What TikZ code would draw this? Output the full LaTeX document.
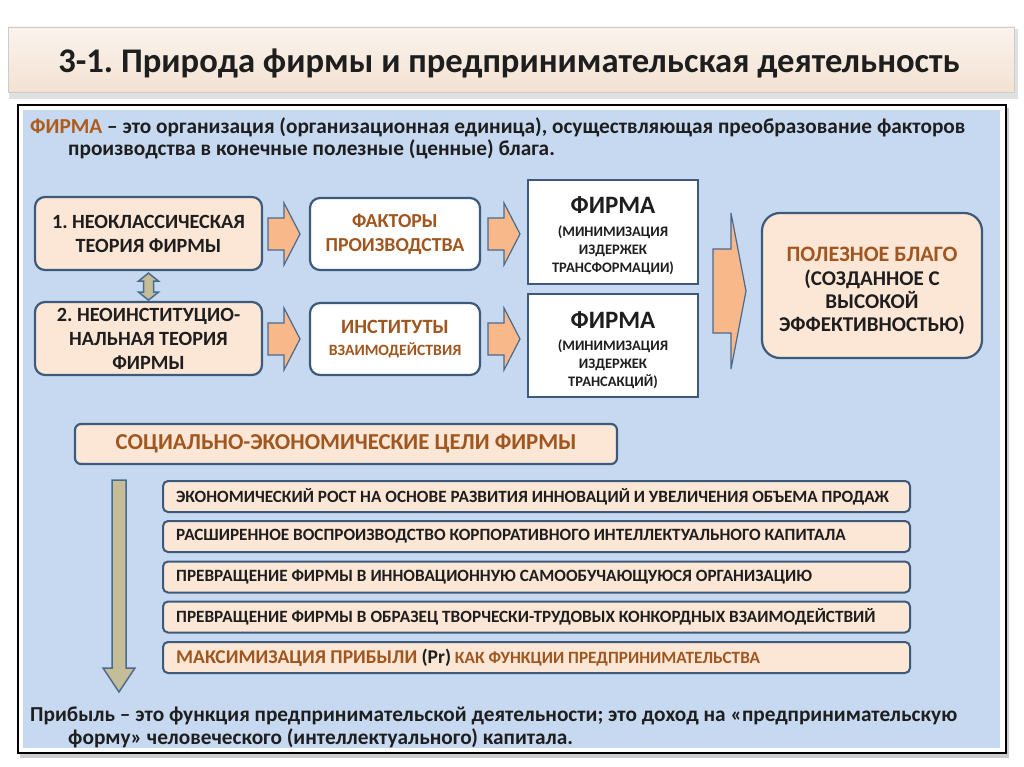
\documentclass[tikz,border=0pt]{standalone}
\usepackage{fontspec}
\setmainfont{Carlito}
\frenchspacing
\usetikzlibrary{calc}
\definecolor{panel}{HTML}{C6D9F1}
\definecolor{beige}{HTML}{FCE6D6}
\definecolor{titlebg}{HTML}{F3E2D2}
\definecolor{bord}{HTML}{3E5A7A}
\definecolor{brn}{HTML}{A0561F}
\definecolor{org}{HTML}{F8B88A}
\definecolor{dbl}{HTML}{C4BD97}
\definecolor{txt}{HTML}{1E1E1E}
\definecolor{arrbord}{HTML}{4A6A8E}
\tikzset{
  boxb/.style={draw=bord, line width=2.2pt, fill=beige, rounded corners=10pt, align=center, text=txt, inner sep=0pt},
  boxw/.style={draw=bord, line width=2.2pt, fill=white, rounded corners=10pt, align=center, text=txt, inner sep=0pt},
  boxf/.style={draw=bord, line width=2.2pt, fill=white, align=center, text=txt, inner sep=0pt},
  goal/.style={draw=bord, line width=2pt, fill=beige, rounded corners=5pt, minimum width=747pt, minimum height=31pt, inner sep=0pt},
  goaltxt/.style={anchor=west, text=txt, inner sep=0pt, font=\bfseries\fontsize{17.2}{18}\selectfont},
  barr/.style={draw=arrbord, line width=1.2pt, fill=org, line join=miter},
  garr/.style={draw=arrbord, line width=1.5pt, fill=dbl, line join=miter},
}
\newcommand{\rarrow}[6]{% x0, xhead, xtip, ymid, head half, shaft half
  \path[barr] (#1,#4-#6) -- (#2,#4-#6) -- (#2,#4-#5) -- (#3,#4) -- (#2,#4+#5) -- (#2,#4+#6) -- (#1,#4+#6) -- cycle;}
\begin{document}
\begin{tikzpicture}[x=1pt,y=-1pt]
\useasboundingbox (0,0) rectangle (1024,767);
\fill[white] (0,0) rectangle (1024,767);
% title
\fill[black!25] (10,31) rectangle (1016,97);
\fill[black!12] (9,29) rectangle (1018,99);
\shade[top color=titlebg!40, bottom color=titlebg, draw=black!20] (8,27) rectangle (1014,92);
\node[anchor=base, inner sep=0pt, text=txt, font=\bfseries\fontsize{34.6}{34}\selectfont] (title) at (509,73) {3-1. Природа фирмы и предпринимательская деятельность};
% panel
\fill[black!20] (20,108) rectangle (1009,758);
\draw[black, line width=2.5pt, fill=white] (18,105) rectangle (1006,753);
\fill[panel] (23,110) rectangle (1000,748);
% definition
\node[anchor=base west, inner sep=0pt, text=txt, font=\bfseries\fontsize{21.3}{21}\selectfont] (def1) at (30,134) {\textcolor{brn!85!orange}{ФИРМА} – это организация (организационная единица), осуществляющая преобразование факторов};
\node[anchor=base west, inner sep=0pt, text=txt, font=\bfseries\fontsize{21.3}{21}\selectfont] (def2) at (68,156) {производства в конечные полезные (ценные) блага.};
% row boxes
\node[boxb, minimum width=227pt, minimum height=73pt, font=\bfseries\fontsize{20.2}{24}\selectfont] (t1) at (148.5,233.5) {1. НЕОКЛАССИЧЕСКАЯ\\ТЕОРИЯ ФИРМЫ};
\node[boxb, minimum width=227pt, minimum height=73pt, font=\bfseries\fontsize{20.2}{24}\selectfont] (t2) at (148.5,338.5) {2. НЕОИНСТИТУЦИО-\\НАЛЬНАЯ ТЕОРИЯ\\ФИРМЫ};
\node[boxw, minimum width=170pt, minimum height=72pt, text=brn, font=\bfseries\fontsize{19.8}{24}\selectfont] (f1) at (395,234) {ФАКТОРЫ\\ПРОИЗВОДСТВА};
\node[boxw, minimum width=170pt, minimum height=72pt, text=brn, font=\bfseries\fontsize{20.3}{22}\selectfont] (f2) at (395,339) {ИНСТИТУТЫ\\{\fontsize{15.7}{16}\selectfont ВЗАИМОДЕЙСТВИЯ}};
\node[boxf, minimum width=170pt, minimum height=104pt] (m1) at (613,232) {};
\node[align=center, text=txt, inner sep=0pt, font=\bfseries\fontsize{14.5}{18}\selectfont, yshift=-4pt] (m1t) at (m1) {{\fontsize{25}{26}\selectfont ФИРМА}\\[5pt](МИНИМИЗАЦИЯ\\ИЗДЕРЖЕК\\ТРАНСФОРМАЦИИ)};
\node[boxf, minimum width=170pt, minimum height=103pt] (m2) at (613,345.5) {};
\node[align=center, text=txt, inner sep=0pt, font=\bfseries\fontsize{14.5}{18}\selectfont, yshift=-4.5pt] (m2t) at (m2) {{\fontsize{25}{26}\selectfont ФИРМА}\\[4pt](МИНИМИЗАЦИЯ\\ИЗДЕРЖЕК\\ТРАНСАКЦИЙ)};
\node[boxb, rounded corners=18pt, minimum width=220pt, minimum height=145pt] (g) at (872,285.5) {};
\node[align=center, text=txt, inner sep=0pt, font=\bfseries\fontsize{21}{23}\selectfont, yshift=-5pt] (gt) at (g) {\textcolor{brn}{\fontsize{22}{24}\selectfont ПОЛЕЗНОЕ БЛАГО}\\[1pt](СОЗДАННОЕ С\\ВЫСОКОЙ\\ЭФФЕКТИВНОСТЬЮ)};
% block arrows
\rarrow{268}{284}{300}{234}{31}{16}
\rarrow{268}{284}{300}{339}{31}{16}
\rarrow{488}{504}{520}{234}{31}{16}
\rarrow{488}{504}{520}{339}{31}{16}
\rarrow{713}{731}{746}{291}{78}{42}
% double arrow
\path[garr] (t1.south) ++(0,2) coordinate (da) -- ++(10,8) -- ++(-5,0) -- ++(0,11) -- ++(5,0) -- ++(-10,8) -- ++(-10,-8) -- ++(5,0) -- ++(0,-11) -- ++(-5,0) -- cycle;
% goals header
\node[boxb, rounded corners=6pt, minimum width=542pt, minimum height=40pt, text=brn, font=\bfseries\fontsize{22.8}{23}\selectfont] (sg) at (346,444) {СОЦИАЛЬНО-ЭКОНОМИЧЕСКИЕ ЦЕЛИ ФИРМЫ};
% down arrow
\coordinate (dtop) at (119,480);
\path[garr] (dtop) ++(-7,0) -- ++(14,0) -- ++(0,188) -- ++(9,0) -- (119,692) -- (103,668) -- ++(9,0) -- cycle;
% goals
\node[goal] (g1) at (536.5,496.5) {};
\node[goal] (g2) at (536.5,536.5) {};
\node[goal] (g3) at (536.5,577) {};
\node[goal] (g4) at (536.5,617) {};
\node[goal] (g5) at (536.5,657.5) {};
\node[goaltxt] (g1t) at ([xshift=14pt]g1.west) {ЭКОНОМИЧЕСКИЙ РОСТ НА ОСНОВЕ РАЗВИТИЯ ИННОВАЦИЙ И УВЕЛИЧЕНИЯ ОБЪЕМА ПРОДАЖ};
\node[goaltxt] (g2t) at ([xshift=14pt]g2.west) {РАСШИРЕННОЕ ВОСПРОИЗВОДСТВО КОРПОРАТИВНОГО ИНТЕЛЛЕКТУАЛЬНОГО КАПИТАЛА};
\node[goaltxt] (g3t) at ([xshift=14pt]g3.west) {ПРЕВРАЩЕНИЕ ФИРМЫ В ИННОВАЦИОННУЮ САМООБУЧАЮЩУЮСЯ ОРГАНИЗАЦИЮ};
\node[goaltxt] (g4t) at ([xshift=14pt]g4.west) {ПРЕВРАЩЕНИЕ ФИРМЫ В ОБРАЗЕЦ ТВОРЧЕСКИ-ТРУДОВЫХ КОНКОРДНЫХ ВЗАИМОДЕЙСТВИЙ};
\node[goaltxt, text=brn] (g5t) at ([xshift=14pt]g5.west) {{\fontsize{19.5}{20}\selectfont МАКСИМИЗАЦИЯ ПРИБЫЛИ \textcolor{txt}{(Pr)}} КАК ФУНКЦИИ ПРЕДПРИНИМАТЕЛЬСТВА};
% bottom text
\node[anchor=base west, inner sep=0pt, text=txt, font=\bfseries\fontsize{21.3}{21}\selectfont] (b1) at (30,721) {Прибыль – это функция предпринимательской деятельности; это доход на «предпринимательскую};
\node[anchor=base west, inner sep=0pt, text=txt, font=\bfseries\fontsize{21.3}{21}\selectfont] (b2) at (68,744) {форму» человеческого (интеллектуального) капитала.};
\end{tikzpicture}
\end{document}
